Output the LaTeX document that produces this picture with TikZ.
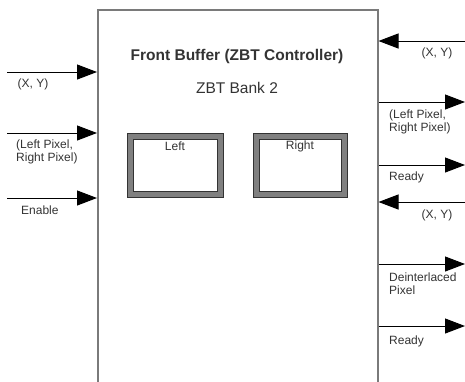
\documentclass[tikz,border=0pt]{standalone}
\usepackage{fontspec}
\setmainfont{Liberation Sans}
\usetikzlibrary{arrows.meta}
\definecolor{txt}{HTML}{333333}
\definecolor{frame}{HTML}{7A7A7A}
\definecolor{bankfill}{HTML}{808080}
\begin{document}
\begin{tikzpicture}[x=1pt,y=-1pt,
  sig/.style={draw=black, line width=1pt, -{Triangle[length=20pt,width=15pt]}},
  lbl/.style={text=txt, font=\fontsize{12}{12}\selectfont, inner sep=0pt},
  lblleft/.style={lbl, anchor=west, align=left},
  title/.style={text=txt, inner sep=0pt, font=\fontsize{15.5}{18}\selectfont},
  bankout/.style={draw=black!80, fill=bankfill, line width=0.8pt, minimum width=96pt, minimum height=64pt, inner sep=0pt},
  bankin/.style={draw=black!80, fill=white, line width=0.8pt, minimum height=52pt, inner sep=0pt}]
\useasboundingbox (0,0) rectangle (465,381);
\clip (0,0) rectangle (465,381);

% controller block (runs past the lower edge)
\node (fb) [draw=frame, line width=1.5pt, minimum width=280pt, minimum height=400pt,
  anchor=north west, inner sep=0pt] at (97,9) {};

\node (t1) [title, font=\bfseries\fontsize{15.5}{18}\selectfont] at (237,56) {Front Buffer (ZBT Controller)};
\node (t2) [title] at (237,88) {ZBT Bank 2};

% the two bank buffers
\node (lo) [bankout] at (175,165) {};
\node (li) [bankin, minimum width=84pt] at (175,165) {};
\node (ll) [lbl] at (175,146) {Left};
\node (ro) [bankout, minimum width=94pt] at (300,165) {};
\node (ri) [bankin, minimum width=82pt] at (300,165) {};
\node (rl) [lbl] at (300,146) {Right};

% inputs on the left
\coordinate (a1) at (7,72);
\coordinate (a2) at (7,133);
\coordinate (a3) at (7,198);
\draw[sig] (a1) -- (fb.west |- a1);
\draw[sig] (a2) -- (fb.west |- a2);
\draw[sig] (a3) -- (fb.west |- a3);
\node (la1) [lbl] at (33,84) {(X, Y)};
\node (la2) [lblleft] at (16,152) {(Left Pixel,\\[1pt]Right Pixel)};
\node (la3) [lblleft] at (21,210) {Enable};

% signals on the right
\coordinate (b1) at (466,41);
\coordinate (b2) at (465,102);
\coordinate (b3) at (465,165);
\coordinate (b4) at (466,202);
\coordinate (b5) at (465,264);
\coordinate (b6) at (465,326);
\draw[sig] (b1) -- (fb.east |- b1);
\draw[sig] (fb.east |- b2) -- (b2);
\draw[sig] (fb.east |- b3) -- (b3);
\draw[sig] (b4) -- (fb.east |- b4);
\draw[sig] (fb.east |- b5) -- (b5);
\draw[sig] (fb.east |- b6) -- (b6);
\node (lb1) [lbl] at (437,53) {(X, Y)};
\node (lb2) [lblleft] at (389,122) {(Left Pixel,\\[1pt]Right Pixel)};
\node (lb3) [lblleft] at (389,177) {Ready};
\node (lb4) [lbl] at (437,215) {(X, Y)};
\node (lb5) [lblleft] at (389,284) {Deinterlaced\\[1pt]Pixel};
\node (lb6) [lblleft] at (389,341) {Ready};
\end{tikzpicture}
\end{document}
